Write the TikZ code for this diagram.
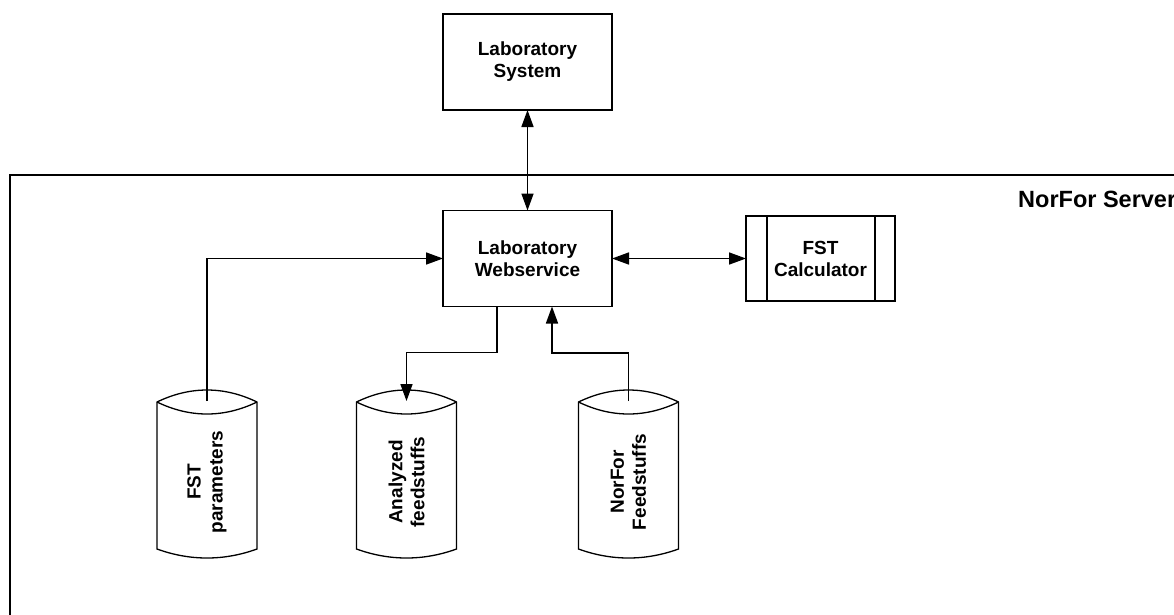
\documentclass[tikz,border=0pt]{standalone}
\usepackage{fontspec}
\setmainfont{Liberation Sans}
\usetikzlibrary{arrows.meta,calc}
\begin{document}
\begin{tikzpicture}[x=1pt,y=-1pt,
  every node/.style={font=\bfseries\fontsize{19}{22}\selectfont, align=center},
  boxnode/.style={draw, line width=1.5pt, rectangle, minimum width=169pt, minimum height=96pt, inner sep=0pt, outer sep=0pt},
  calcnode/.style={draw, line width=1.5pt, rectangle, minimum width=149pt, minimum height=85pt, inner sep=0pt, outer sep=0pt},
  conn/.style={line width=1.6pt},
  arr/.style={conn, -{Triangle[length=17pt,width=12pt]}},
  darr/.style={conn, {Triangle[length=17pt,width=12pt]}-{Triangle[length=17pt,width=12pt]}},
  cyl/.style={line width=1.3pt, fill=white}
]
\useasboundingbox (0,0) rectangle (1174,614);
\clip (0,0) rectangle (1174,614);
\fill[white] (0,0) rectangle (1174,614);

% server frame
\draw[line width=1.6pt] (10,175) rectangle (1250,700);
\node[anchor=base west, font=\bfseries\fontsize{23.5}{27}\selectfont, inner sep=0pt] (srv) at (1018,207) {NorFor Server};

% boxes
\node[boxnode] (ls) at (527.5,62) {Laboratory\\System};
\node[boxnode] (ws) at (527.5,258.5) {Laboratory\\Webservice};
\node[calcnode] (calc) at (820.5,258.5) {FST\\Calculator};
\draw[line width=1.5pt] ($(calc.north west)+(21,0)$) -- ($(calc.south west)+(21,0)$);
\draw[line width=1.5pt] ($(calc.north east)+(-20,0)$) -- ($(calc.south east)+(-20,0)$);

% cylinders
\foreach \cx/\nm/\la/\lb in {207/fst/FST/parameters, 406.5/anz/Analyzed/feedstuffs, 628.5/nor/NorFor/Feedstuffs}{
  \draw[cyl] (\cx-50,402) .. controls (\cx-17,386) and (\cx+17,386) .. (\cx+50,402)
    -- (\cx+50,549) .. controls (\cx+17,561) and (\cx-17,561) .. (\cx-50,549) -- cycle;
  \draw[cyl] (\cx-50,402) .. controls (\cx-17,418) and (\cx+17,418) .. (\cx+50,402);
  \node[rotate=90] (\nm) at (\cx,482) {\la\\\lb};
  \coordinate (\nm top) at (\cx,401);
}

% connectors
\draw[darr] (ls) -- (ws);
\draw[darr] (ws) -- (calc);
\draw[arr] (fsttop) |- (ws.west);
\draw[arr] ([xshift=-30.5pt]ws.south) -- ++(0,46) -| (anztop);
\draw[arr] (nortop) -- ++(0,-48) -| ([xshift=24.5pt]ws.south);
\end{tikzpicture}
\end{document}
